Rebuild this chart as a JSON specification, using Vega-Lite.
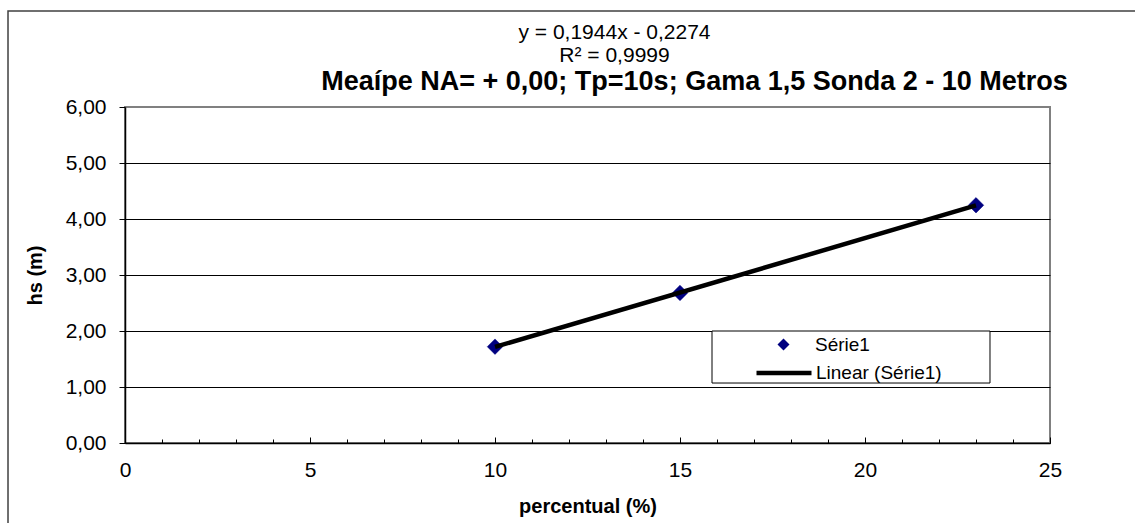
{
  "$schema": "https://vega.github.io/schema/vega-lite/v6.json",
  "width": 925,
  "height": 336,
  "autosize": {"type": "none"},
  "padding": {"left": 125, "top": 107, "right": 85, "bottom": 80},
  "background": "white",
  "config": {
    "font": "Liberation Sans",
    "view": {"stroke": "#808080", "strokeWidth": 2},
    "axis": {"labelFont": "Liberation Sans", "titleFont": "Liberation Sans", "labelColor": "#000000", "titleColor": "#000000"},
    "legend": {"labelFont": "Liberation Sans", "labelFontSize": 19, "labelColor": "#000000", "padding": 0, "title": null}
  },
  "title": {
    "text": "Meaípe  NA= + 0,00; Tp=10s; Gama 1,5 Sonda 2 - 10 Metros",
    "font": "Liberation Sans",
    "fontSize": 27,
    "fontWeight": "bold",
    "color": "#000000",
    "anchor": "middle",
    "dx": 107,
    "dy": 96,
    "offset": 10
  },
  "data": {
    "values": [
      {"x": 10, "y": 1.72, "s": "Série1"},
      {"x": 15, "y": 2.68, "s": "Série1"},
      {"x": 23, "y": 4.245, "s": "Série1"}
    ]
  },
  "resolve": {"scale": {"color": "independent"}, "legend": {"color": "independent"}},
  "layer": [
    {
      "data": {"values": [{}]},
      "mark": {"type": "rect", "fill": "transparent", "stroke": "#404040", "strokeWidth": 1.5, "clip": false},
      "encoding": {
        "x": {"datum": -3.162, "type": "quantitative"},
        "x2": {"datum": 40},
        "y": {"datum": 7.714, "type": "quantitative"},
        "y2": {"datum": -6}
      }
    },
    {
      "data": {"values": [{}]},
      "mark": {"type": "rect", "fill": "white", "stroke": "#000000", "strokeWidth": 1},
      "encoding": {
        "x": {"datum": 15.865, "type": "quantitative"},
        "x2": {"datum": 23.378},
        "y": {"datum": 2.0, "type": "quantitative"},
        "y2": {"datum": 1.071}
      }
    },
    {
      "mark": {"type": "point", "shape": "diamond", "filled": true, "size": 240, "opacity": 1, "stroke": "#000080", "strokeWidth": 0.5},
      "encoding": {
        "x": {
          "field": "x",
          "type": "quantitative",
          "scale": {"domain": [0, 25], "nice": false, "zero": false},
          "axis": {
            "title": "percentual (%)",
            "values": [0,1,2,3,4,5,6,7,8,9,10,11,12,13,14,15,16,17,18,19,20,21,22,23,24,25],
            "tickCount": 40,
            "format": "d",
            "labelExpr": "datum.value % 5 === 0 ? datum.label : ''",
            "labelOverlap": false,
            "labelFlush": false,
            "grid": false,
            "tickSize": {"condition": {"test": "datum.value % 5 === 0", "value": -6}, "value": -4},
            "tickColor": "#000000",
            "tickWidth": 1,
            "domainColor": "#000000",
            "domainWidth": 1.5,
            "labelFontSize": 21,
            "labelPadding": 22,
            "titleFontSize": 20,
            "titleFontWeight": "bold",
            "titleX": 462.5,
            "titleY": 63,
            "titleBaseline": "middle",
            "titleAlign": "center"
          }
        },
        "y": {
          "field": "y",
          "type": "quantitative",
          "scale": {"domain": [0, 6], "nice": false, "zero": false},
          "axis": {
            "title": "hs (m)",
            "values": [0,1,2,3,4,5,6],
            "labelExpr": "replace(format(datum.value, '.2f'), '.', ',')",
            "grid": true,
            "gridColor": {"condition": {"test": "datum.value === 6", "value": "#808080"}, "value": "#000000"},
            "gridWidth": 1,
            "tickSize": 6,
            "tickColor": "#000000",
            "tickWidth": 1,
            "domainColor": "#000000",
            "domainWidth": 1.5,
            "labelFontSize": 21,
            "labelPadding": 13,
            "titleFontSize": 20,
            "titleFontWeight": "bold",
            "titleX": -90,
            "titleY": 168,
            "titleAngle": -90,
            "titleAlign": "center",
            "titleBaseline": "middle"
          }
        },
        "color": {
          "field": "s",
          "type": "nominal",
          "scale": {"domain": ["Série1"], "range": ["#000080"]},
          "legend": {
            "orient": "none",
            "legendX": 649,
            "legendY": 228,
            "symbolType": "diamond",
            "symbolSize": 144,
            "symbolStrokeWidth": 0,
            "symbolOpacity": 1,
            "labelOffset": 22
          }
        }
      }
    },
    {
      "transform": [{"regression": "y", "on": "x"}],
      "mark": {"type": "line", "strokeWidth": 4.5, "strokeCap": "butt"},
      "encoding": {
        "x": {"field": "x", "type": "quantitative"},
        "y": {"field": "y", "type": "quantitative"},
        "color": {
          "datum": "Linear (Série1)",
          "type": "nominal",
          "scale": {"domain": ["Linear (Série1)"], "range": ["#000000"]},
          "legend": {
            "orient": "none",
            "legendX": 629,
            "legendY": 236,
            "symbolType": "stroke",
            "symbolSize": 3025,
            "symbolStrokeWidth": 4.5,
            "symbolStrokeColor": "#000000",
            "symbolOpacity": 1,
            "labelOffset": 2
          }
        }
      }
    },
    {
      "data": {"values": [{}]},
      "mark": {"type": "text", "text": ["y = 0,1944x - 0,2274", "R² = 0,9999"], "font": "Liberation Sans", "fontSize": 21, "lineHeight": 23, "align": "center", "baseline": "middle", "color": "#000000", "clip": false},
      "encoding": {
        "x": {"datum": 13.23, "type": "quantitative"},
        "y": {"datum": 7.321, "type": "quantitative"}
      }
    }
  ]
}
